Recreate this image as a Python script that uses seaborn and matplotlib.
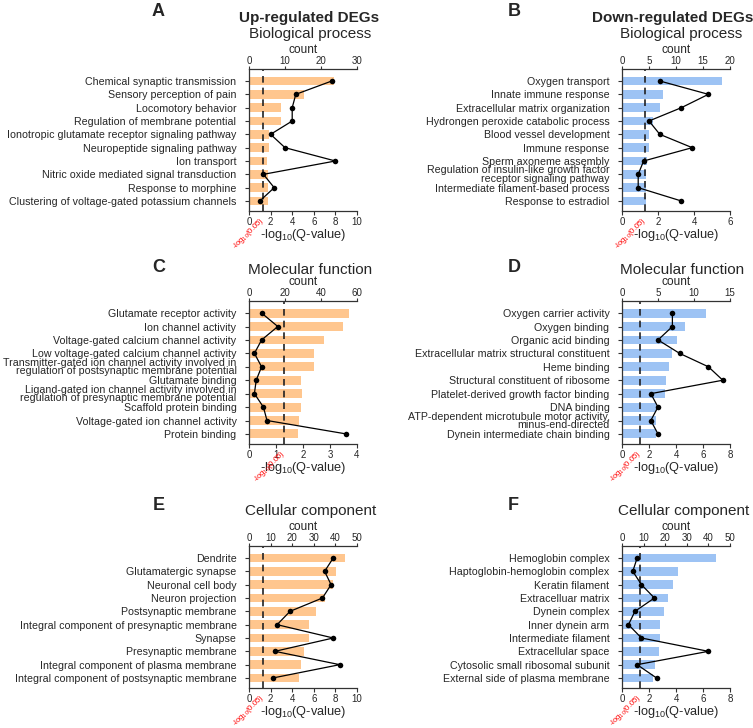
import numpy as np
import pandas as pd
import matplotlib
matplotlib.use('Agg')
import matplotlib.pyplot as plt
import matplotlib.transforms as mtransforms
import seaborn as sns

sns.set_style('white')
plt.rcParams['font.family'] = ['Liberation Sans', 'DejaVu Sans']
plt.rcParams['mathtext.fontset'] = 'custom'
plt.rcParams['mathtext.rm'] = 'Liberation Sans'
plt.rcParams['mathtext.it'] = 'Liberation Sans:italic'
plt.rcParams['mathtext.bf'] = 'Liberation Sans:bold'

# A - up-regulated, biological process
terms_a = ['Chemical synaptic transmission', 'Sensory perception of pain', 'Locomotory behavior',
           'Regulation of membrane potential', 'Ionotropic glutamate receptor signaling pathway',
           'Neuropeptide signaling pathway', 'Ion transport', 'Nitric oxide mediated signal transduction',
           'Response to morphine', 'Clustering of voltage-gated potassium channels']
q_a = [7.83, 5.12, 2.95, 2.95, 1.86, 1.86, 1.71, 1.77, 1.80, 1.80]
count_a = [23, 13, 12, 12, 6, 10, 24, 4, 7, 3]

# B - down-regulated, biological process
terms_b = ['Oxygen transport', 'Innate immune response', 'Extracellular matrix organization',
           'Hydrongen peroxide catabolic process', 'Blood vessel development', 'Immune response',
           'Sperm axoneme assembly', 'Regulation of insulin-like growth factor\nreceptor signaling pathway',
           'Intermediate filament-based process', 'Response to estradiol']
q_b = [5.54, 2.26, 2.13, 1.70, 1.52, 1.48, 1.37, 1.33, 1.33, 1.33]
count_b = [7, 16, 11, 5, 7, 13, 4, 3, 3, 11]

# C - up-regulated, molecular function
terms_c = ['Glutamate receptor activity', 'Ion channel activity', 'Voltage-gated calcium channel activity',
           'Low voltage-gated calcium channel activity',
           'Transmitter-gated ion channel activity involved in\nregulation of postsynaptic membrane potential',
           'Glutamate binding',
           'Ligand-gated ion channel activity involved in\nregulation of presynaptic membrane potential',
           'Scaffold protein binding', 'Voltage-gated ion channel activity', 'Protein binding']
q_c = [3.72, 3.47, 2.79, 2.40, 2.40, 1.93, 1.96, 1.93, 1.85, 1.83]
count_c = [7, 16, 7, 3, 7, 4, 3, 8, 10, 54]

# D - down-regulated, molecular function
terms_d = ['Oxygen carrier activity', 'Oxygen binding', 'Organic acid binding',
           'Extracellular matrix structural constituent', 'Heme binding', 'Structural constituent of ribosome',
           'Platelet-derived growth factor binding', 'DNA binding',
           'ATP-dependent microtubule motor activity,\nminus-end-directed', 'Dynein intermediate chain binding']
q_d = [6.22, 4.67, 4.07, 3.68, 3.46, 3.26, 3.16, 2.52, 2.52, 2.52]
count_d = [7, 7, 5, 8, 12, 14, 4, 5, 4, 5]

# E - up-regulated, cellular component
terms_e = ['Dendrite', 'Glutamatergic synapse', 'Neuronal cell body', 'Neuron projection',
           'Postsynaptic membrane', 'Integral component of presynaptic membrane', 'Synapse',
           'Presynaptic membrane', 'Integral component of plasma membrane',
           'Integral component of postsynaptic membrane']
q_e = [8.89, 8.06, 7.81, 7.07, 6.17, 5.59, 5.59, 5.12, 4.85, 4.66]
count_e = [39, 35, 38, 34, 19, 13, 39, 12, 42, 11]

# F - down-regulated, cellular component
terms_f = ['Hemoglobin complex', 'Haptoglobin-hemoglobin complex', 'Keratin filament', 'Extracelluar matrix',
           'Dynein complex', 'Inner dynein arm', 'Intermediate filament', 'Extracellular space',
           'Cytosolic small ribosomal subunit', 'External side of plasma membrane']
q_f = [6.96, 4.12, 3.75, 3.38, 3.14, 2.81, 2.81, 2.74, 2.47, 2.27]
count_f = [7, 5, 9, 15, 6, 3, 9, 40, 7, 16]

ORANGE = '#FFC68E'
BLUE = '#9DC3F4'
W, H = 753, 728
fig = plt.figure(figsize=(W / 100, H / 100), dpi=100)


def fx(x):
    return x / W


def fy(y):
    return 1 - y / H


def draw_panel(left, top, bottom, terms, qvals, counts, color, qmax, qstep, cmax, cstep):
    right = left + 108
    ax = fig.add_axes([fx(left), fy(bottom), (right - left) / W, (bottom - top) / H])
    df = pd.DataFrame({'term': terms, 'q': qvals, 'count': counts})
    n = len(df)
    sns.barplot(data=df, x='q', y='term', orient='h', color=color, saturation=1,
                width=0.66, linewidth=0, ax=ax)
    ax.axvline(1.3, color='#222222', lw=1.2, ls=(0, (4, 3)), zorder=5)

    ax2 = ax.twiny()
    sns.lineplot(x=df['count'].values, y=np.arange(n), sort=False, orient='y', color='black',
                 marker='o', markersize=4, markeredgewidth=0, linewidth=0.9, ax=ax2)

    ax.set_xlim(0, qmax)
    ax.set_xticks(np.arange(0, qmax + 0.01, qstep))
    ax2.set_xlim(0, cmax)
    ax2.set_xticks(np.arange(0, cmax + 0.01, cstep))
    ax.set_ylim(n - 0.25, -0.9)

    for s in ['right', 'top']:
        ax.spines[s].set_visible(False)
    for s in ['right', 'left', 'bottom']:
        ax2.spines[s].set_visible(False)
    for s in ['left', 'bottom']:
        ax.spines[s].set_color('#333333')
        ax.spines[s].set_linewidth(0.9)
    ax2.spines['top'].set_color('#333333')
    ax2.spines['top'].set_linewidth(0.9)

    ax.tick_params(axis='x', bottom=True, direction='out', length=3, width=0.8,
                   pad=1.5, labelsize=7, color='#333333')
    ax.tick_params(axis='y', left=True, direction='out', length=3, width=0.8,
                   pad=6, labelsize=7.7, color='#333333')
    ax2.tick_params(axis='x', top=True, direction='out', length=2.5, width=0.8,
                    pad=0, labelsize=7, color='#333333')
    for lbl in ax.get_yticklabels():
        lbl.set_linespacing(0.78)

    ax.set_ylabel('')
    ax.set_xlabel(r'-log$_{10}$(Q-value)', fontsize=9.2, labelpad=0)
    ax2.set_xlabel('count', fontsize=8.6, labelpad=2)
    ax2.set_ylabel('')

    # threshold label under the dashed line
    trans = mtransforms.blended_transform_factory(ax.transData, ax.transAxes) + \
        mtransforms.ScaledTranslation(4 / 100, 0, fig.dpi_scale_trans)
    ax.text(1.3, -0.03, r'-log$_{10}$(0.05)', transform=trans, rotation=45,
            ha='right', va='top', color='red', fontsize=5.6)
    return ax


rows = [(69, 211), (301, 444), (546, 688)]
draw_panel(249, *rows[0], terms_a, q_a, count_a, ORANGE, 10, 2, 30, 10)
draw_panel(622, *rows[0], terms_b, q_b, count_b, BLUE, 6, 2, 20, 5)
draw_panel(249, *rows[1], terms_c, q_c, count_c, ORANGE, 4, 1, 60, 20)
draw_panel(622, *rows[1], terms_d, q_d, count_d, BLUE, 8, 2, 15, 5)
draw_panel(249, *rows[2], terms_e, q_e, count_e, ORANGE, 10, 2, 50, 10)
draw_panel(622, *rows[2], terms_f, q_f, count_f, BLUE, 8, 2, 50, 10)

# group titles
fig.text(fx(309), fy(18), 'Up-regulated DEGs', fontsize=11, fontweight='bold', ha='center', va='center')
fig.text(fx(673), fy(18), 'Down-regulated DEGs', fontsize=11, fontweight='bold', ha='center', va='center')

# GO category titles
subtitles = [('Biological process', 310, 34), ('Biological process', 681, 34),
             ('Molecular function', 310, 270), ('Molecular function', 682, 270),
             ('Cellular component', 311, 511), ('Cellular component', 684, 511)]
for txt, x, y in subtitles:
    fig.text(fx(x), fy(y), txt, fontsize=11, ha='center', va='center')

# panel letters
letters = [('A', 158, 11), ('B', 514, 11), ('C', 159, 267), ('D', 514, 267), ('E', 159, 506), ('F', 513, 506)]
for txt, x, y in letters:
    fig.text(fx(x), fy(y), txt, fontsize=13, fontweight='bold', ha='center', va='center')

fig.savefig('out.png', dpi=100)
